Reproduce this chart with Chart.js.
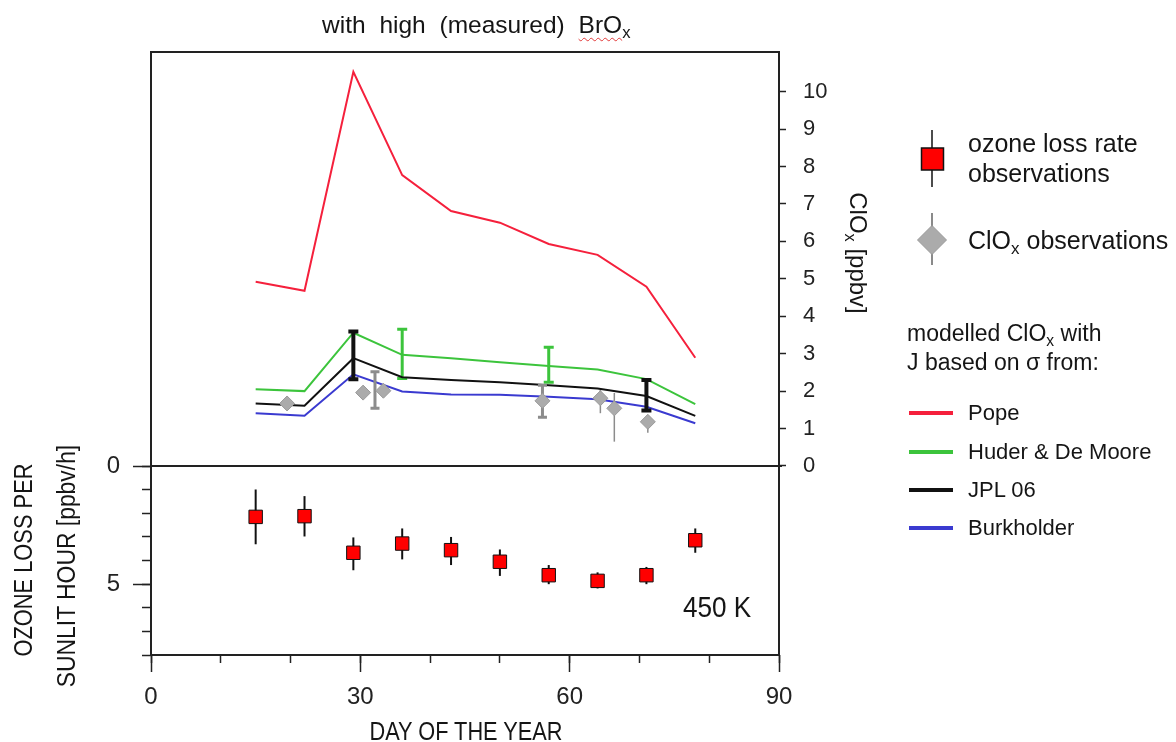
<!DOCTYPE html>
<html>
<head>
<meta charset="utf-8">
<script src="https://cdn.jsdelivr.net/npm/chart.js@4.4.0/dist/chart.umd.min.js"></script>
<style>
  html, body { margin: 0; padding: 0; background: #fff; }
  #wrap { position: relative; width: 1176px; height: 742px; overflow: hidden;
          font-family: 'Liberation Sans', Arial, sans-serif; color: #151515; }
  #chart { position: absolute; left: 0; top: 0; }
  .txt { position: absolute; white-space: nowrap; }
  .rot { text-align: center; }
  sub { font-size: 0.68em; vertical-align: -0.3em; line-height: 0; }
  .squiggle { text-decoration: underline wavy #e23a3a; text-decoration-thickness: 1px; text-underline-offset: 4px; }
  svg.legend { position: absolute; left: 0; top: 0; pointer-events: none; }
</style>
</head>
<body>
<div id="wrap">
  <canvas id="chart" width="1176" height="742"></canvas>

  <div class="txt" style="left:322px; top:13px; font-size:24.5px; line-height:24px; word-spacing:7px;">with high (measured) <span class="squiggle">BrO</span><sub>x</sub></div>

  <!-- right axis title -->
  <div class="txt rot" style="left:708px; top:238px; width:300px; height:30px; line-height:30px; font-size:24px; transform:rotate(90deg);">ClO<sub>x</sub> [ppbv]</div>

  <!-- left axis title -->
  <div class="txt rot" style="left:-127px; top:545px; width:300px; height:30px; line-height:30px; font-size:26px; transform:rotate(-90deg) scaleX(0.84);">OZONE LOSS PER</div>
  <div class="txt rot" style="left:-84px; top:551px; width:300px; height:30px; line-height:30px; font-size:26px; transform:rotate(-90deg) scaleX(0.88);">SUNLIT HOUR [ppbv/h]</div>

  <div class="txt" style="left:316px; top:716px; width:300px; text-align:center; font-size:25px; line-height:30px; transform:scaleX(0.87);">DAY OF THE YEAR</div>
  <div class="txt" style="left:683px; top:592px; font-size:30px; line-height:30px; transform:scaleX(0.87); transform-origin:left center;">450 K</div>

  <!-- legend -->
  <svg class="legend" width="1176" height="742">
    <line x1="932" y1="130" x2="932" y2="187" stroke="#111" stroke-width="1.5"/>
    <rect x="921.5" y="148" width="22" height="22" fill="#ff0000" stroke="#111" stroke-width="1.5"/>
    <line x1="932" y1="213" x2="932" y2="265" stroke="#8a8a8a" stroke-width="2"/>
    <polygon points="932,225.5 946.5,240 932,254.5 917.5,240" fill="#ababab" stroke="#999" stroke-width="1"/>
    <line x1="909" y1="413" x2="953" y2="413" stroke="#f5203c" stroke-width="4"/>
    <line x1="909" y1="452" x2="953" y2="452" stroke="#3cc43c" stroke-width="4"/>
    <line x1="909" y1="490" x2="953" y2="490" stroke="#111111" stroke-width="4"/>
    <line x1="909" y1="528" x2="953" y2="528" stroke="#3a3ad0" stroke-width="4"/>
  </svg>
  <div class="txt" style="left:968px; top:128px; font-size:25px; line-height:30px;">ozone loss rate</div>
  <div class="txt" style="left:968px; top:158px; font-size:25px; line-height:30px;">observations</div>
  <div class="txt" style="left:968px; top:225px; font-size:25px; line-height:30px;">ClO<sub>x</sub> observations</div>
  <div class="txt" style="left:907px; top:318px; font-size:23px; line-height:30px;">modelled ClO<sub>x</sub> with</div>
  <div class="txt" style="left:907px; top:347px; font-size:23px; line-height:30px;">J based on σ from:</div>
  <div class="txt" style="left:968px; top:398px; font-size:22px; line-height:30px;">Pope</div>
  <div class="txt" style="left:968px; top:437px; font-size:22px; line-height:30px;">Huder &amp; De Moore</div>
  <div class="txt" style="left:968px; top:475px; font-size:22px; line-height:30px;">JPL 06</div>
  <div class="txt" style="left:968px; top:513px; font-size:22px; line-height:30px;">Burkholder</div>
</div>

<script>
// modelled ClOx (ppbv), one value per model day
const modelDays  = [15, 22, 29, 36, 43, 50, 57, 64, 71, 78];
const cloxPope   = [4.92, 4.68, 10.53, 7.77, 6.81, 6.50, 5.93, 5.64, 4.79, 2.89];
const cloxHuder  = [2.05, 2.00, 3.56, 2.97, 2.88, 2.77, 2.67, 2.58, 2.32, 1.65];
const cloxJpl    = [1.67, 1.61, 2.88, 2.37, 2.30, 2.24, 2.16, 2.07, 1.87, 1.34];
const cloxBurk   = [1.41, 1.34, 2.45, 1.99, 1.91, 1.90, 1.85, 1.78, 1.58, 1.14];

// range bars drawn on the model curves
const huderErrLo = [null, null, null, 2.34, null, null, 2.24, null, null, null];
const huderErrHi = [null, null, null, 3.65, null, null, 3.17, null, null, null];
const jplErrLo   = [null, null, 2.32, null, null, null, null, null, 1.48, null];
const jplErrHi   = [null, null, 3.59, null, null, null, null, null, 2.30, null];

// ClOx observations
const obsDays  = [19.5, 30.4, 33.3, 56.1, 64.4, 66.4, 71.2];
const obsClox  = [1.67, 1.96, 2.01, 1.74, 1.81, 1.54, 1.18];
const obsErrLo = [null, null, null, null, 1.41, 0.65, 0.89];
const obsErrHi = [null, null, null, null, 2.03, 1.95, 1.34];
const obsBarDays = [32.1, 56.1];
const obsBarMid  = [2.03, 1.73];
const obsBarLo   = [1.54, 1.30];
const obsBarHi   = [2.52, 2.16];

// ozone loss rate observations (ppbv per sunlit hour)
const lossDays = [15, 22, 29, 36, 43, 50, 57, 64, 71, 78];
const lossRate = [2.15, 2.12, 3.67, 3.28, 3.56, 4.05, 4.62, 4.86, 4.62, 3.14];
const lossLo   = [0.99, 1.27, 3.02, 2.64, 3.00, 3.53, 4.19, 4.50, 4.27, 2.64];
const lossHi   = [3.31, 2.98, 4.41, 3.95, 4.19, 4.65, 5.00, 5.18, 5.00, 3.67];

// tick values
const dayTicks       = [0, 30, 60, 90];
const dayMinorTicks  = [0, 10, 20, 30, 40, 50, 60, 70, 80, 90];
const cloxTicks      = [0, 1, 2, 3, 4, 5, 6, 7, 8, 9, 10];
const lossTicks      = [0, 5];
const lossMinorTicks = [0, 1, 2, 3, 4, 5, 6, 7, 8];

const pts = (xs, ys) => xs.map((x, i) => ({ x: x, y: ys[i] }));
const setTicks = vals => axis => { axis.ticks = vals.map(v => ({ value: v })); };

const INK = '#222';
const DIGITS = { family: "'Liberation Sans', Arial, sans-serif", size: 24 };

// vertical range bars, drawn just under each dataset's own marks
const errorBars = {
  id: 'errorBars',
  beforeDatasetDraw(chart, args) {
    const ds = chart.data.datasets[args.index];
    if (!ds.errLo) return;
    const yScale = chart.scales[args.meta.yAxisID];
    const ctx = chart.ctx;
    ctx.save();
    ctx.strokeStyle = ds.errColor;
    ctx.lineWidth = ds.errWidth;
    args.meta.data.forEach((pt, i) => {
      const lo = ds.errLo[i], hi = ds.errHi[i];
      if (lo == null) return;
      const y0 = yScale.getPixelForValue(lo), y1 = yScale.getPixelForValue(hi);
      ctx.beginPath();
      ctx.moveTo(pt.x, y0);
      ctx.lineTo(pt.x, y1);
      if (ds.errCap) {
        ctx.moveTo(pt.x - ds.errCap, y0); ctx.lineTo(pt.x + ds.errCap, y0);
        ctx.moveTo(pt.x - ds.errCap, y1); ctx.lineTo(pt.x + ds.errCap, y1);
      }
      ctx.stroke();
    });
    ctx.restore();
  }
};

// plot frame and the panel divider at zero
const frame = {
  id: 'frame',
  beforeDatasetsDraw(chart) {
    const a = chart.chartArea, ctx = chart.ctx;
    const y0 = chart.scales.yLoss.getPixelForValue(0);
    ctx.save();
    ctx.strokeStyle = INK;
    ctx.lineWidth = 2;
    ctx.strokeRect(a.left, a.top, a.right - a.left, a.bottom - a.top);
    ctx.beginPath();
    ctx.moveTo(a.left, y0);
    ctx.lineTo(a.right + 3, y0);
    ctx.stroke();
    ctx.restore();
  }
};

const lineSet = (label, data, color, order) => ({
  label: label, data: pts(modelDays, data), borderColor: color, backgroundColor: color,
  borderWidth: 2, pointRadius: 0, tension: 0, yAxisID: 'yClox', order: order
});

const huder = lineSet('Huder & De Moore', cloxHuder, '#3cc43c', 4);
huder.errLo = huderErrLo; huder.errHi = huderErrHi;
huder.errColor = '#3cc43c'; huder.errWidth = 3; huder.errCap = 5;

const jpl = lineSet('JPL 06', cloxJpl, '#111111', 3);
jpl.errLo = jplErrLo; jpl.errHi = jplErrHi;
jpl.errColor = '#111111'; jpl.errWidth = 4; jpl.errCap = 5;

new Chart(document.getElementById('chart'), {
  type: 'line',
  data: {
    datasets: [
      lineSet('Pope', cloxPope, '#f5203c', 6),
      huder,
      jpl,
      lineSet('Burkholder', cloxBurk, '#3a3ad0', 5),
      {
        label: 'ClOx range', data: pts(obsBarDays, obsBarMid), showLine: false,
        pointRadius: 0, yAxisID: 'yClox', order: 2,
        errLo: obsBarLo, errHi: obsBarHi, errColor: '#8c8c8c', errWidth: 3, errCap: 4.5
      },
      {
        label: 'ClOx observations', data: pts(obsDays, obsClox), showLine: false,
        pointStyle: 'rectRot', pointRadius: 7.5, pointBackgroundColor: '#ababab',
        pointBorderColor: '#9a9a9a', pointBorderWidth: 1, yAxisID: 'yClox', order: 1,
        errLo: obsErrLo, errHi: obsErrHi, errColor: '#8c8c8c', errWidth: 1.5
      },
      {
        label: 'ozone loss rate observations', data: pts(lossDays, lossRate), showLine: false,
        pointStyle: 'rect', pointRadius: 9.5, pointBackgroundColor: '#ff0000',
        pointBorderColor: '#111', pointBorderWidth: 1, yAxisID: 'yLoss', order: 0,
        errLo: lossLo, errHi: lossHi, errColor: '#111', errWidth: 2
      }
    ]
  },
  options: {
    responsive: false,
    animation: false,
    layout: { padding: { top: 52, left: 0, right: 0, bottom: 0 } },
    plugins: { legend: { display: false }, tooltip: { enabled: false } },
    scales: {
      xMinor: {
        type: 'linear', position: 'bottom', weight: -1, min: 0, max: 90,
        afterBuildTicks: setTicks(dayMinorTicks),
        afterFit: axis => { axis.height = 0; },
        ticks: { display: false, autoSkip: false },
        grid: { drawOnChartArea: false, tickLength: 8, tickColor: INK, tickWidth: 1.5 },
        border: { display: false }
      },
      x: {
        type: 'linear', position: 'bottom', min: 0, max: 90,
        afterBuildTicks: setTicks(dayTicks),
        afterFit: axis => { axis.height = 87; },
        ticks: { font: DIGITS, color: INK, padding: 11, maxRotation: 0, autoSkip: false },
        grid: { drawOnChartArea: false, tickLength: 17, tickColor: INK, tickWidth: 1.5 },
        border: { display: false }
      },
      yLossMinor: {
        type: 'linear', position: 'left', weight: -1, reverse: true, min: -17.54, max: 8,
        afterBuildTicks: setTicks(lossMinorTicks),
        afterFit: axis => { axis.width = 0; },
        ticks: { display: false, autoSkip: false },
        grid: { drawOnChartArea: false, tickLength: 9, tickColor: INK, tickWidth: 1.5 },
        border: { display: false }
      },
      yLoss: {
        type: 'linear', position: 'left', reverse: true, min: -17.54, max: 8,
        afterBuildTicks: setTicks(lossTicks),
        afterFit: axis => { axis.width = 151; },
        ticks: { font: DIGITS, color: INK, padding: 13, autoSkip: false },
        grid: { drawOnChartArea: false, tickLength: 18, tickColor: INK, tickWidth: 1.5 },
        border: { display: false }
      },
      yClox: {
        type: 'linear', position: 'right', min: -5.05, max: 11.06,
        afterBuildTicks: setTicks(cloxTicks),
        afterFit: axis => { axis.width = 397; },
        ticks: { font: { family: "'Liberation Sans', Arial, sans-serif", size: 22 }, color: INK, padding: 17, autoSkip: false },
        grid: { drawOnChartArea: false, tickLength: 7, tickColor: INK, tickWidth: 1.5 },
        border: { display: false }
      }
    }
  },
  plugins: [frame, errorBars]
});
</script>
</body>
</html>
